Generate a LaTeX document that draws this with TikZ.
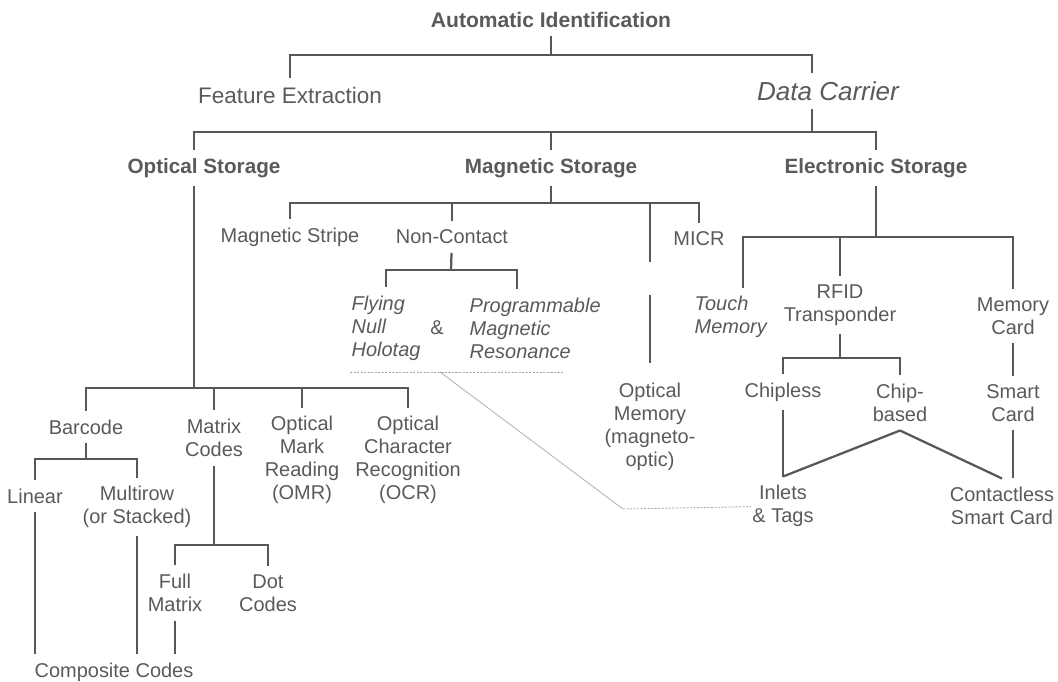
\documentclass[tikz,border=0pt]{standalone}
\usepackage{fontspec}
\setmainfont{Liberation Sans}
\usepackage{tikz}
\usetikzlibrary{calc}
\usepackage{xcolor}
\definecolor{aiink}{HTML}{5A5A5A}
\definecolor{aiwire}{HTML}{575757}
\definecolor{aifaint}{HTML}{A8A8A8}

\begin{document}
\begin{tikzpicture}[x=0.025cm, y=-0.025cm,
    txt/.style={text=aiink, font=\fontsize{14.2}{16.3}\selectfont, align=center, inner xsep=1pt, inner ysep=6pt},
    ital/.style={txt, font=\fontsize{14.2}{16.3}\selectfont\itshape},
    hd/.style={txt, font=\fontsize{14.7}{17}\selectfont\bfseries},
    branch/.style={draw=aiwire, line width=1.6pt},
    leader/.style={draw=aifaint, line width=0.5pt},
    dotrule/.style={draw=aifaint, line width=0.6pt, dash pattern=on 1.5pt off 1pt}]
    \useasboundingbox (0,0) rectangle (1058,682);
    % top: automatic identification
    \node[hd, font=\fontsize{15}{17}\selectfont\bfseries] (ai) at (551,20) {Automatic Identification};
    \node[txt, font=\fontsize{16}{18}\selectfont] (fe) at (290,95) {Feature Extraction};
    \node[txt, font=\fontsize{18.5}{21}\selectfont\itshape] (dc) at (828,91) {Data Carrier};
    \coordinate (b0) at (551,55);
    \draw[branch] (ai) -- (b0);
    \draw[branch] (fe) |- (b0) -| ($(dc.north)+(-16,0)$);
    % storage kinds
    \node[hd] (os) at (204,168) {Optical Storage};
    \node[hd] (ms) at (551,168) {Magnetic Storage};
    \node[hd] (es) at (876,168) {Electronic Storage};
    \coordinate (b1) at (812,132);
    \draw[branch] ($(dc.south)+(-16,0)$) -- (b1);
    \draw[branch] ($(os.north)+(-10,0)$) |- (b1) -| (es);
    \draw[branch] (b1 -| ms) -- (ms);
    % optical branch
    \node[txt] (bc) at (86,427) {Barcode};
    \node[txt] (mx) at (214,438) {Matrix\\Codes};
    \node[txt] (omr) at (302,460) {Optical\\Mark\\Reading\\(OMR)};
    \node[txt] (ocr) at (408,460) {Optical\\Character\\Recognition\\(OCR)};
    \coordinate (ob) at (194,388);
    \draw[branch] ($(os.south)+(-10,0)$) -- (ob);
    \draw[branch] (bc) |- (ob) -| (ocr);
    \draw[branch] (ob -| mx) -- (mx);
    \draw[branch] (ob -| omr) -- (omr);
    \node[txt] (lin) at (35,496) {Linear};
    \node[txt] (mr) at (137,507) {Multirow\\(or Stacked)};
    \coordinate (bb) at (86,459);
    \draw[branch] (bc) -- (bb);
    \draw[branch] (lin) |- (bb) -| (mr);
    \node[txt] (fm) at (175,593) {Full\\Matrix};
    \node[txt] (dcd) at (268,593) {Dot\\Codes};
    \coordinate (xb) at (214,545);
    \draw[branch] (mx) -- (xb);
    \draw[branch] (fm) |- (xb) -| (dcd);
    \node[txt] (cc) at (114,672) {Composite Codes};
    \draw[branch] (lin) -- (lin |- cc.north);
    \draw[branch] (mr) -- (mr |- cc.north);
    \draw[branch] (fm) -- (fm |- cc.north);
    % magnetic branch
    \node[txt] (mst) at (290,237) {Magnetic Stripe};
    \node[txt] (nc) at (452,237) {Non-Contact};
    \node[txt] (micr) at (699,239) {MICR};
    \node[txt, inner ysep=14pt] (om) at (650,427) {Optical\\Memory\\(magneto-\\optic)};
    \coordinate (mb) at (551,203);
    \coordinate (og1) at (650,262);
    \coordinate (og2) at (650,295);
    \draw[branch] (ms) -- (mb);
    \draw[branch] (mst) |- (mb) -| (micr);
    \draw[branch] (mb -| nc) -- (nc);
    \draw[branch] (mb -| og1) -- (og1);
    \draw[branch] (og2) -- (om);
    \node[ital, align=left, anchor=west] (fn) at (350,328) {Flying\\Null\\Holotag};
    \node[txt] (amp) at (437,328) {\&};
    \node[ital, align=left, anchor=west] (pm) at (468,328) {Programmable\\Magnetic\\Resonance};
    \coordinate (nb) at (451,270);
    \draw[branch] (nc) -- (nb);
    \draw[branch] (fn) |- (nb) -| ($(pm.north)+(-18,0)$);
    \coordinate (ul) at (563,372);
    \coordinate (ht) at (440,372);
    \coordinate (kink) at (623,509);
    \draw[dotrule] (fn.south west |- ul) -- (ul);
    % electronic branch
    \node[ital, align=left, anchor=west] (tm) at (693,317) {Touch\\Memory};
    \node[txt] (rf) at (840,305) {RFID\\Transponder};
    \node[txt] (mc) at (1013,316) {Memory\\Card};
    \coordinate (eb) at (876,237);
    \draw[branch] (es) -- (eb);
    \draw[branch] ($(tm.north)+(12,0)$) |- (eb) -| (mc);
    \draw[branch] (eb -| rf) -- (rf);
    \node[txt] (cl) at (783,392) {Chipless};
    \node[txt] (cb) at (900,403) {Chip-\\based};
    \node[txt] (sc) at (1013,403) {Smart\\Card};
    \coordinate (rb) at (840,358);
    \draw[branch] (rf) -- (rb);
    \draw[branch] (cl) |- (rb) -| (cb);
    \draw[branch] (mc) -- (sc);
    \node[txt] (it) at (783,506) {Inlets\\\& Tags};
    \node[txt] (csc) at (1002,506) {Contactless\\Smart Card};
    \draw[branch] (cl) -- (it);
    \draw[branch] (cb.south) -- (it.north);
    \draw[branch] (cb.south) -- (csc.north);
    \draw[branch] (sc) -- (sc |- csc.north);
    % holotag leader to inlets
    \draw[leader] (ht) -- (kink);
    \draw[dotrule] (kink) -- (it);
\end{tikzpicture}
\end{document}
